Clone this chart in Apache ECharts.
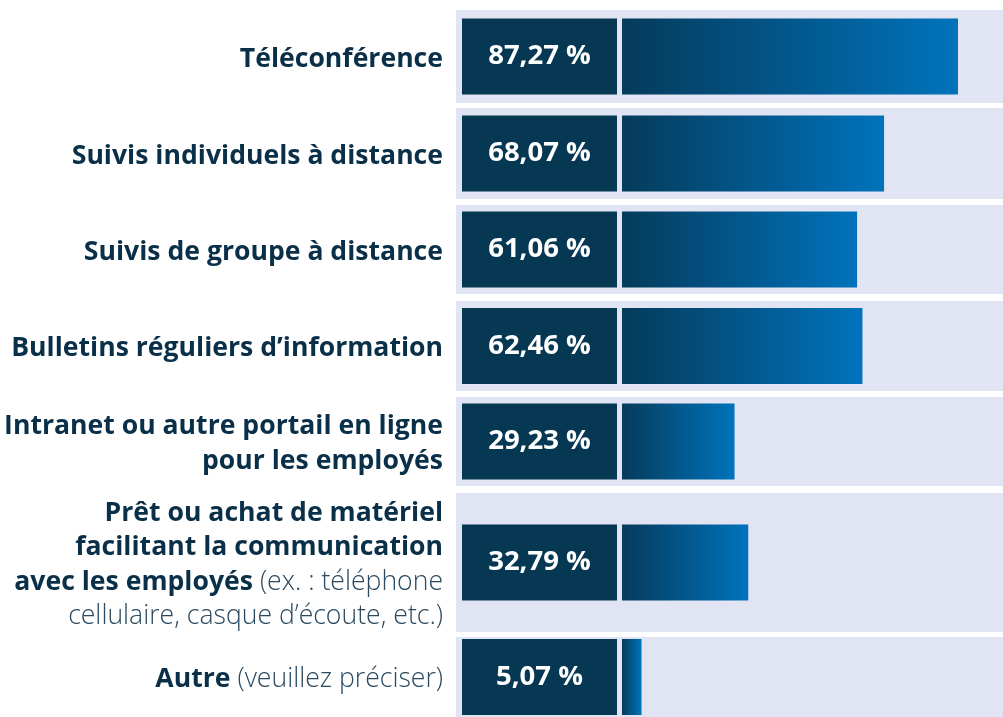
<!DOCTYPE html>
<html>
<head>
<meta charset="utf-8">
<script src="https://cdn.jsdelivr.net/npm/echarts@6/dist/echarts.min.js"></script>
<style>
  html, body { margin: 0; padding: 0; background: #fff; }
  #main { width: 1003px; height: 717px; }
</style>
</head>
<body>
<div id="main"></div>
<script>
// libellés (b = gras, r = précision en maigre)
var categories = [
    '{b|Téléconférence}',
    '{b|Suivis individuels à distance}',
    '{b|Suivis de groupe à distance}',
    '{b|Bulletins réguliers d’information}',
    '{b|Intranet ou autre portail en ligne}\n{b|pour les employés}',
    '{b|Prêt ou achat de matériel}\n{b|facilitant la communication}\n{b|avec les employés}{r| (ex. : téléphone}\n{r|cellulaire, casque d’écoute, etc.)}',
    '{b|Autre}{r| (veuillez préciser)}'
];
var values = [87.27, 68.07, 61.06, 62.46, 29.23, 32.79, 5.07];

// position verticale de chaque bande
var rowTops = [10, 108, 205, 301, 397, 493, 637];
var rowHeights = [93, 91, 89, 90, 89, 139, 90];

var navy = '#063753';
var textColor = '#0a3049';
var pxPerPct = 3.85;          // 1 % = 3.85 px
var bandLeft = 456, zeroX = 622, bandRight = 1003;

var grids = [], xAxes = [], yAxes = [], series = [];
for (var i = 0; i < values.length; i++) {
    grids.push({
        left: bandLeft, width: bandRight - bandLeft,
        top: rowTops[i], height: rowHeights[i],
        show: true, backgroundColor: '#e1e4f3', borderWidth: 0
    });
    xAxes.push({
        gridIndex: i, type: 'value',
        min: -(zeroX - bandLeft) / pxPerPct,
        max: (bandRight - zeroX) / pxPerPct,
        show: false
    });
    yAxes.push({
        gridIndex: i, type: 'category', data: [categories[i]],
        axisLine: { show: false }, axisTick: { show: false },
        splitLine: { show: false },
        axisLabel: {
            margin: 13,
            padding: [5, 0, 0, 0],
            rich: {
                b: { fontFamily: 'Open Sans', fontWeight: 'bold', fontSize: 26.6, color: textColor, lineHeight: 34.5 },
                r: { fontFamily: 'Open Sans', fontWeight: 300, fontSize: 26.6, color: '#2b4a60', lineHeight: 34.5 }
            }
        }
    });
    series.push({
        type: 'bar', xAxisIndex: i, yAxisIndex: i,
        data: [values[i]], barWidth: 76,
        itemStyle: {
            color: new echarts.graphic.LinearGradient(0, 0, 1, 0, [
                { offset: 0, color: '#053b5b' },
                { offset: 1, color: '#0073bc' }
            ])
        },
        label: {
            show: true, position: 'left', distance: 5,
            formatter: function (p) {
                return '{v|' + p.value.toFixed(2).replace('.', ',') + ' %}';
            },
            rich: {
                v: {
                    width: 155, height: 76, lineHeight: 78, align: 'center',
                    backgroundColor: navy, color: '#fff',
                    fontFamily: 'Open Sans', fontWeight: 'bold', fontSize: 27.5
                }
            }
        }
    });
}

var myChart = echarts.init(document.getElementById('main'));
myChart.setOption({
    animation: false,
    grid: grids,
    xAxis: xAxes,
    yAxis: yAxes,
    series: series
});
</script>
</body>
</html>
